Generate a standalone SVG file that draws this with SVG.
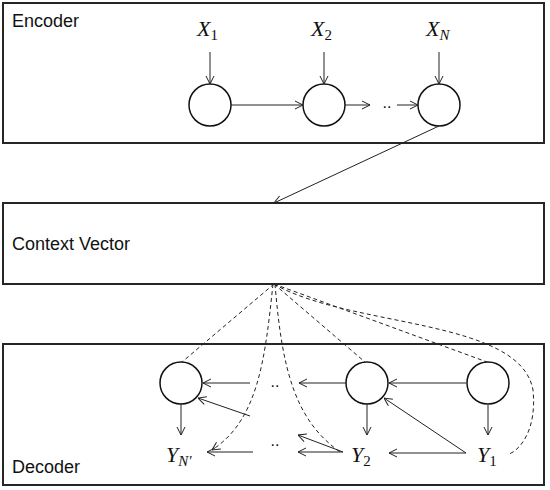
<svg xmlns="http://www.w3.org/2000/svg" width="550" height="490" viewBox="0 0 550 490">
<style>
.box{fill:#fff;stroke:#262626;stroke-width:2}
.node{fill:#fff;stroke:#111;stroke-width:1.5}
.lbl{font-family:"Liberation Sans",Arial,sans-serif;font-size:18px;fill:#111}
.math{font-family:"Liberation Serif","Times New Roman",serif;font-style:italic;font-size:22px;fill:#111}
.sub{font-size:15px}
.up{font-style:normal}
.dots{font-family:"Liberation Sans",Arial,sans-serif;font-size:16px;fill:#111;text-anchor:middle}
.ar{fill:none;stroke:#222;stroke-width:1;marker-end:url(#ah)}
.ds{fill:none;stroke:#222;stroke-width:1;stroke-dasharray:4 3}
</style>
<defs>
<marker id="ah" viewBox="0 0 10 10" refX="10" refY="5" markerWidth="10" markerHeight="10" markerUnits="userSpaceOnUse" orient="auto">
<polyline points="2,1 10,5 2,9" fill="none" stroke="#222" stroke-width="1"/>
</marker>
</defs>
<rect width="550" height="490" fill="#fff"/>
<g id="encoder">
<rect class="box" x="3" y="3" width="541" height="140"/>
<text class="lbl" x="12" y="27">Encoder</text>
</g>
<g id="context">
<rect class="box" x="3" y="203" width="541" height="81"/>
<text class="lbl" x="12" y="250">Context Vector</text>
</g>
<g id="decoder">
<rect class="box" x="3" y="344" width="541" height="141"/>
<text class="lbl" x="12" y="473">Decoder</text>
</g>
<g id="x1"><text class="math" x="197" y="36">X<tspan class="sub up" dy="4">1</tspan></text></g>
<g id="x2"><text class="math" x="311" y="36">X<tspan class="sub up" dy="4">2</tspan></text></g>
<g id="xn"><text class="math" x="426" y="36">X<tspan class="sub" dy="4">N</tspan></text></g>
<g id="e1"><circle class="node" cx="210" cy="105" r="21"/></g>
<g id="e2"><circle class="node" cx="324" cy="105" r="21"/></g>
<g id="e3"><circle class="node" cx="439" cy="105" r="21"/></g>
<g id="edots"><text class="dots" x="387" y="108">..</text></g>
<g id="d1"><circle class="node" cx="181" cy="383" r="21"/></g>
<g id="d2"><circle class="node" cx="367" cy="383" r="21"/></g>
<g id="d3"><circle class="node" cx="488" cy="383" r="21"/></g>
<g id="ddots1"><text class="dots" x="275" y="387">..</text></g>
<g id="ddots2"><text class="dots" x="275" y="446">..</text></g>
<g id="yn"><text class="math" x="166" y="462">Y<tspan class="sub" dy="4">N′</tspan></text></g>
<g id="y2"><text class="math" x="351" y="462">Y<tspan class="sub up" dy="4">2</tspan></text></g>
<g id="y1"><text class="math" x="477" y="462">Y<tspan class="sub up" dy="4">1</tspan></text></g>
<g id="connectors">
<line class="ar" x1="210" y1="52" x2="210" y2="84"/>
<line class="ar" x1="324" y1="52" x2="324" y2="84"/>
<line class="ar" x1="439" y1="52" x2="439" y2="84"/>
<line class="ar" x1="231" y1="105" x2="303" y2="105"/>
<line class="ar" x1="345" y1="105" x2="370" y2="105"/>
<line class="ar" x1="397" y1="105" x2="418" y2="105"/>
<line class="ar" x1="439" y1="126" x2="274" y2="203"/>
<line class="ds" x1="274" y1="284" x2="182" y2="362"/>
<line class="ds" x1="274" y1="284" x2="365" y2="362"/>
<line class="ds" x1="274" y1="284" x2="487" y2="362"/>
<path class="ds" d="M274,284 C350,328 520,318 533,390 C537,430 520,450 509,454"/>
<path class="ds" d="M273,284 C265,360 258,420 212,450" marker-end="url(#ah)"/>
<path class="ds" d="M275,284 C282,370 295,420 340,452"/>
<line class="ar" x1="466" y1="383" x2="389" y2="383"/>
<line class="ar" x1="346" y1="383" x2="299" y2="383"/>
<line class="ar" x1="250" y1="383" x2="203" y2="383"/>
<line class="ar" x1="250" y1="416" x2="198" y2="398"/>
<line class="ar" x1="181" y1="404" x2="181" y2="435"/>
<line class="ar" x1="367" y1="404" x2="367" y2="435"/>
<line class="ar" x1="488" y1="405" x2="488" y2="435"/>
<line class="ar" x1="466" y1="453" x2="389" y2="453"/>
<line class="ar" x1="466" y1="453" x2="384" y2="398"/>
<line class="ar" x1="343" y1="452" x2="298" y2="452"/>
<line class="ar" x1="343" y1="452" x2="298" y2="435"/>
<line class="ar" x1="253" y1="452" x2="207" y2="452"/>
</g>
</svg>
